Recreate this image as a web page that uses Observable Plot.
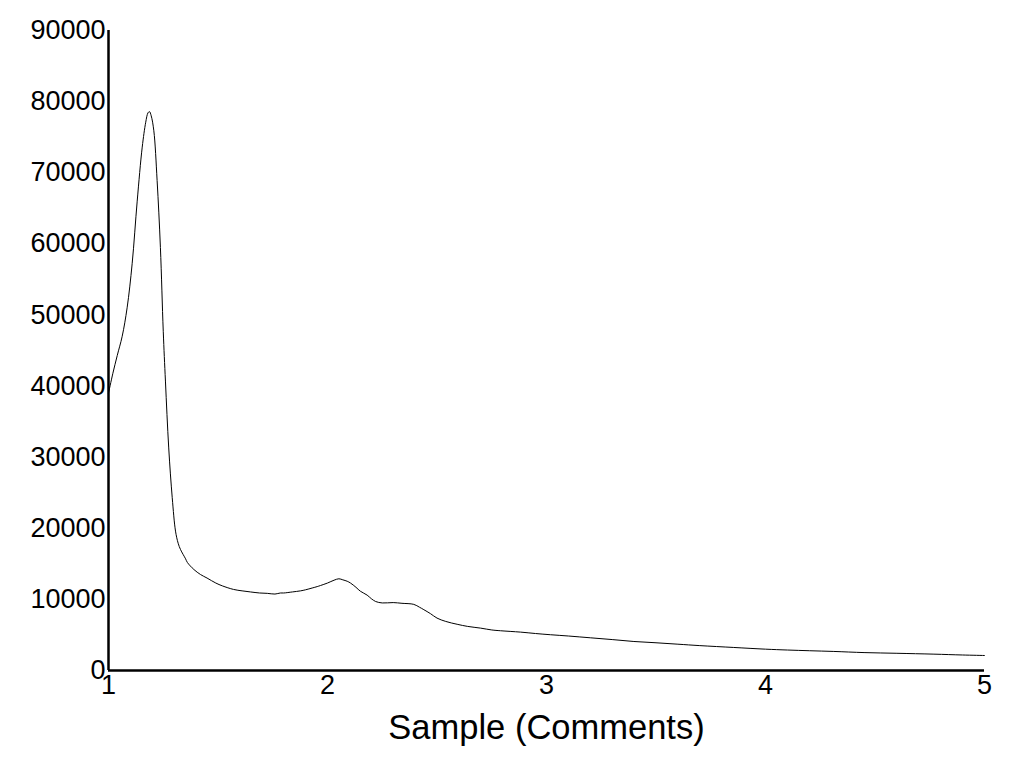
<!DOCTYPE html>
<html>
<head>
<meta charset="utf-8">
<script src="https://cdn.jsdelivr.net/npm/d3@7"></script>
<script src="https://cdn.jsdelivr.net/npm/@observablehq/plot@0.6"></script>
<style>
  html, body { margin: 0; padding: 0; background: #fff; }
  #chart { width: 1010px; height: 766px; }
</style>
</head>
<body>
<div id="chart"></div>
<script>
const sampleX = [
  1.0, 1.02, 1.04, 1.0625, 1.085, 1.108, 1.131, 1.154, 1.170, 1.180, 1.187, 1.195,
  1.207, 1.222, 1.237, 1.250, 1.260, 1.275, 1.291, 1.306, 1.318, 1.329, 1.352, 1.36,
  1.39, 1.42, 1.45, 1.49, 1.52, 1.571, 1.61, 1.648, 1.69, 1.725, 1.76, 1.785, 1.80,
  1.84, 1.877, 1.90, 1.93, 1.953, 1.968, 2.00, 2.03, 2.052, 2.07, 2.09, 2.105, 2.13,
  2.15, 2.181, 2.20, 2.22, 2.25, 2.30, 2.34, 2.394, 2.42, 2.44, 2.47, 2.50, 2.54,
  2.592, 2.64, 2.699, 2.75, 2.79, 2.881, 2.95, 3.018, 3.1, 3.2, 3.3, 3.399, 3.5,
  3.6, 3.7, 3.855, 4.0, 4.1, 4.2, 4.312, 4.45, 4.6, 4.769, 4.9, 5.0
];
const intensity = [
  39000, 41800, 44300, 47000, 51000, 57200, 66000, 73600, 77100, 78400, 78600, 78000,
  75900, 68900, 59500, 47700, 40700, 31300, 24300, 19600, 17900, 17000, 15700, 15200,
  14200, 13500, 13000, 12300, 11900, 11400, 11200, 11050, 10900, 10850, 10750, 10900, 10900,
  11050, 11200, 11350, 11600, 11800, 11950, 12300, 12700, 12900, 12750, 12550, 12300, 11700,
  11150, 10600, 10100, 9700, 9500, 9550, 9450, 9300, 8900, 8550, 8000, 7370, 6900,
  6500, 6200, 5960, 5700, 5590, 5400, 5200, 5030, 4850, 4600, 4350, 4080, 3900,
  3700, 3500, 3240, 3000, 2880, 2780, 2680, 2520, 2420, 2300, 2180, 2110
];
const xTicks = [1, 2, 3, 4, 5];
const yTicks = [0, 10000, 20000, 30000, 40000, 50000, 60000, 70000, 80000, 90000];
const xLabel = "Sample (Comments)";

const data = sampleX.map((x, i) => ({x, y: intensity[i]}));
const font = "'Liberation Sans', Arial, sans-serif";

const chart = Plot.plot({
  width: 1010,
  height: 766,
  marginTop: 30,
  marginBottom: 96,
  marginLeft: 108,
  marginRight: 26,
  style: {fontFamily: font, background: "#fff", color: "#000"},
  x: {domain: [1, 5]},
  y: {domain: [0, 90000]},
  marks: [
    Plot.axisY({ticks: yTicks, tickSize: 0, tickPadding: 3, tickFormat: d => String(d), fontSize: 27, label: null}),
    Plot.axisX({ticks: xTicks, tickSize: 0, tickPadding: 4, tickFormat: d => String(d), fontSize: 27, label: null}),
    Plot.line(data, {x: "x", y: "y", stroke: "#000", strokeWidth: 1, curve: "catmull-rom"}),
    Plot.ruleX([1], {stroke: "#000", strokeWidth: 2.5}),
    Plot.ruleY([0], {stroke: "#000", strokeWidth: 2.5}),
    Plot.text([xLabel], {frameAnchor: "bottom", dy: 57, lineAnchor: "middle", fontSize: 34.5, fill: "#000"})
  ]
});
document.getElementById("chart").appendChild(chart);
</script>
</body>
</html>
